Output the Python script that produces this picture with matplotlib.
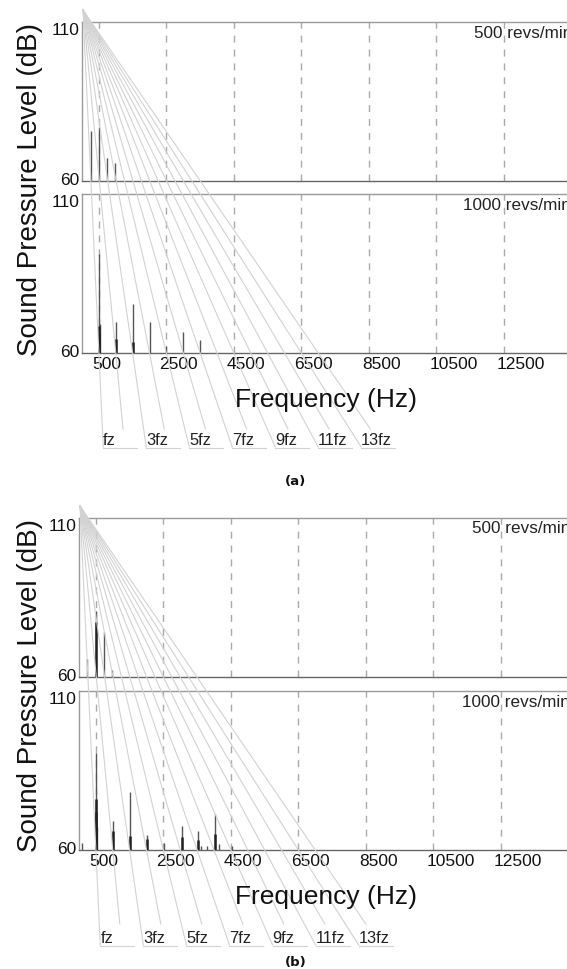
import matplotlib
matplotlib.use("Agg")
import matplotlib.pyplot as plt
from matplotlib.lines import Line2D
from matplotlib.transforms import ScaledTranslation

plt.rcParams['font.family'] = ['Liberation Sans', 'DejaVu Sans']

W, H, DPI = 567, 970, 100

# ---- values ----
speeds = ["500 revs/min", "1000 revs/min"]
f_fund = 500                     # Hz, harmonic spacing used for the fan lines
n_harm = 14
harm_labels = ["fz", "3fz", "5fz", "7fz", "9fz", "11fz", "13fz"]
xtick_vals = [500, 2500, 4500, 6500, 8500, 10500, 12500]

# (a) 500 revs/min
a_slow_f = [258, 495, 732, 969]
a_slow_db = [75.8, 77.0, 67.1, 65.6]
# (a) 1000 revs/min
a_fast_f = [495, 520, 1000, 1500, 2000, 2500, 3000, 3500]
a_fast_db = [91.1, 69.1, 69.6, 75.4, 69.7, 62.3, 66.7, 64.1]
a_fast_core_f = [495, 505, 1000, 1500]
a_fast_core_db = [68.6, 66.0, 64.5, 63.5]

# (b) 500 revs/min
b_slow_f = [244, 495, 735, 980]
b_slow_db = [65.7, 80.9, 74.0, 62.2]
b_slow_core_f = [495]
b_slow_core_db = [77.3]
# (b) 1000 revs/min
b_fast_f = [80, 495, 542, 998, 1511, 2024, 2519, 3043, 3535, 3615, 3784, 4030, 4148, 4524]
b_fast_db = [62.3, 90.6, 67.2, 69.2, 78.1, 64.6, 62.3, 67.5, 66.0, 61.3, 61.3, 71.2, 61.8, 61.3]
b_fast_core_f = [495, 510, 998, 1511, 2024, 3043, 3535, 4030]
b_fast_core_db = [76.0, 72.0, 66.0, 64.5, 63.5, 64.0, 63.0, 65.0]

PX = 0.03375      # pixels per Hz in the picture
FMAX = 15000

fig = plt.figure(figsize=(W / DPI, H / DPI), dpi=DPI)


def px_rect(x0, ytop, ybot):
    return [x0 / W, 1 - ybot / H, FMAX * PX / W, (ybot - ytop) / H]


def shift(dx, dy):
    return ScaledTranslation(dx / DPI, dy / DPI, fig.dpi_scale_trans)


def style_axes(ax, show_x):
    ax.set_xlim(0, FMAX)
    ax.set_ylim(60, 110)
    for s in ax.spines.values():
        s.set_color('#9a9a9a')
        s.set_linewidth(1)
    ax.spines['bottom'].set_color('#666666')
    ax.spines['right'].set_visible(False)
    ax.set_yticks([60, 110])
    ax.set_yticklabels(['60', '110'])
    ax.tick_params(length=0, labelsize=12.5, pad=2, colors='#111111')
    lo, hi = ax.get_yticklabels()
    lo.set_transform(lo.get_transform() + shift(0, 3))
    hi.set_transform(hi.get_transform() + shift(0, -6))
    for v in xtick_vals:
        ax.axvline(v, color='#aaaaaa', lw=1, dashes=(5, 5), zorder=1)
    if show_x:
        ax.set_xticks(xtick_vals)
        ax.set_xticklabels([str(v) for v in xtick_vals])
        for lab in ax.get_xticklabels():
            lab.set_horizontalalignment('left')
            lab.set_transform(lab.get_transform() + shift(-7, 0))
    else:
        ax.set_xticks([])


def spectrum(ax, f, db, cf, cdb):
    ax.vlines(f, 60, db, color='#555555', lw=1.0, zorder=3)
    ax.vlines(cf, 60, cdb, color='#222222', lw=1.8, zorder=4)


def fan(ax_low, apex_y, odd_y, even_y):
    to_fig = fig.transFigure.inverted()
    axd = ax_low.transData.transform((0, 110))[0] + 1
    ayd = H - apex_y
    for k in range(1, n_harm + 1):
        hx, hy = ax_low.transData.transform((k * f_fund, 60))
        ey = H - (odd_y if k % 2 else even_y)
        ex = axd + (hx - axd) * (ayd - ey) / (ayd - hy)
        p0 = to_fig.transform((axd, ayd))
        p1 = to_fig.transform((ex, ey))
        fig.add_artist(Line2D([p0[0], p1[0]], [p0[1], p1[1]],
                              transform=fig.transFigure, color='#d2d2d2', lw=0.8))
        if k % 2:
            p2 = to_fig.transform((ex + 34, ey - 1))
            p3 = to_fig.transform((ex, ey - 1))
            fig.add_artist(Line2D([p3[0], p2[0]], [p3[1], p2[1]],
                                  transform=fig.transFigure, color='#d2d2d2', lw=0.8))
            fig.text(ex / W, (ey + 3) / H, harm_labels[k // 2], ha='left',
                     va='baseline', fontsize=11.8, color='#222222')


def panel(x0, top1, bot1, top2, bot2, apex_y, odd_y, even_y,
          slow, fast, letter, letter_y, flab_y, ylab_y, rev_x, rev_dy):
    ax1 = fig.add_axes(px_rect(x0, top1, bot1))
    ax2 = fig.add_axes(px_rect(x0, top2, bot2))
    style_axes(ax1, False)
    style_axes(ax2, True)
    spectrum(ax1, *slow)
    spectrum(ax2, *fast)
    fig.text(rev_x[0] / W, 1 - (top1 + rev_dy) / H, speeds[0], ha='left',
             va='center', fontsize=12.3, color='#222222')
    fig.text(rev_x[1] / W, 1 - (top2 + rev_dy + 1) / H, speeds[1], ha='left',
             va='center', fontsize=12.3, color='#222222')
    fan(ax2, apex_y, odd_y, even_y)
    fig.text(326 / W, 1 - flab_y / H, "Frequency (Hz)", ha='center', va='center',
             fontsize=19, color='#111111')
    fig.text(30 / W, 1 - ylab_y / H, "Sound Pressure Level (dB)", rotation=90,
             ha='center', va='center', fontsize=20, color='#111111')
    fig.text(296 / W, 1 - letter_y / H, letter, ha='center', va='center',
             fontsize=9.5, fontweight='bold', family='DejaVu Sans', color='#111111')


panel(82, 23, 182, 195, 354, 11, 448, 430,
      (a_slow_f, a_slow_db, [], []),
      (a_fast_f, a_fast_db, a_fast_core_f, a_fast_core_db),
      "(a)", 482, 400, 190, (474, 463), 10)
panel(79, 519, 678, 692, 851, 507, 946, 925,
      (b_slow_f, b_slow_db, b_slow_core_f, b_slow_core_db),
      (b_fast_f, b_fast_db, b_fast_core_f, b_fast_core_db),
      "(b)", 963, 897, 686, (472, 462), 10)

fig.savefig("out.png", dpi=DPI)
